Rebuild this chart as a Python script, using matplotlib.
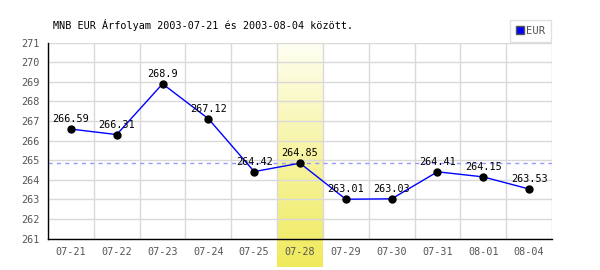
import numpy as np
import matplotlib
matplotlib.use("Agg")
import matplotlib.pyplot as plt
from matplotlib.lines import Line2D

# ── data ──────────────────────────────────────────────
dates  = ["07-21", "07-22", "07-23", "07-24", "07-25", "07-28",
          "07-29", "07-30", "07-31", "08-01", "08-04"]
rates  = [266.59, 266.31, 268.9, 267.12, 264.42, 264.85,
          263.01, 263.03, 264.41, 264.15, 263.53]
highlight_idx = 5
ref_value     = 264.85
yticks        = list(range(261, 272))
title         = "MNB EUR Árfolyam 2003-07-21 és 2003-08-04 között."
series_name   = "EUR"

MONO = "DejaVu Sans Mono"
GRID = "#d9d9d9"
TXT  = "#555555"

fig = plt.figure(figsize=(6, 2.7), dpi=100)
ax = fig.add_axes([48/600, 1 - 238.6/270, 504/600, 195.9/270])

x = np.arange(len(dates))

# highlighted day: vertical yellow gradient, reaching down over the tick label
grad = np.linspace(0, 1, 256).reshape(-1, 1)
top_c = np.array([1.0, 1.0, 0.96])
bot_c = np.array([0.94, 0.92, 0.36])
img = (top_c + (bot_c - top_c) * grad ** 0.9).reshape(256, 1, 3)
band_bottom = yticks[0] - (267 - 238.6) / 195.9 * (yticks[-1] - yticks[0])
ax.imshow(img, extent=[highlight_idx - 0.5, highlight_idx + 0.5, band_bottom, yticks[-1]],
          aspect="auto", origin="upper", zorder=0, clip_on=False, interpolation="bilinear")
ax.set_xlim(-0.5, len(dates) - 0.5)
ax.set_ylim(yticks[0], yticks[-1])

# grid
for yv in yticks:
    ax.axhline(yv, color=GRID, linewidth=1, zorder=1)
for xv in np.arange(-0.5, len(dates), 1.0):
    ax.axvline(xv, color=GRID, linewidth=1, zorder=1)

ax.axhline(ref_value, color="#9999ff", linewidth=1, linestyle=(0, (3, 3)), zorder=2)

ax.plot(x, rates, color="#0000ff", linewidth=1, zorder=3)
ax.plot(x, rates, "o", color="black", markersize=5, zorder=4)

for xi, v in zip(x, rates):
    ax.annotate(f"{v:g}" if v != round(v, 1) else f"{v:.1f}", (xi, v),
                xytext=(0, 5), textcoords="offset points",
                ha="center", va="baseline", fontsize=7.3, family=MONO,
                color="black", zorder=5)

ax.set_xticks(x)
ax.set_xticklabels(dates, family=MONO, fontsize=7.3, color=TXT)
ax.set_yticks(yticks)
ax.set_yticklabels([str(v) for v in yticks], family=MONO, fontsize=7.3, color=TXT)
ax.tick_params(length=0, pad=6)

for side in ["top", "right"]:
    ax.spines[side].set_visible(False)
for side in ["left", "bottom"]:
    ax.spines[side].set_color("black")
    ax.spines[side].set_linewidth(1)
    ax.spines[side].set_zorder(6)

fig.text(53/600, 1 - 25/270, title, family=MONO, fontsize=7.3,
         color="black", ha="left", va="center")

handle = Line2D([], [], marker="s", linestyle="none", markersize=6,
                markerfacecolor="#0000ff", markeredgecolor="#555555")
leg = ax.legend([handle], [series_name], loc="lower right",
                bbox_to_anchor=(1.0, 1.0), frameon=True, fancybox=False,
                prop={"family": MONO, "size": 7.6}, handlelength=0.6,
                handletextpad=0.3, borderpad=0.6, borderaxespad=0.05)
leg.get_frame().set_edgecolor(GRID)
leg.get_frame().set_linewidth(1)
for t in leg.get_texts():
    t.set_color(TXT)

fig.savefig("out.png", dpi=100)
